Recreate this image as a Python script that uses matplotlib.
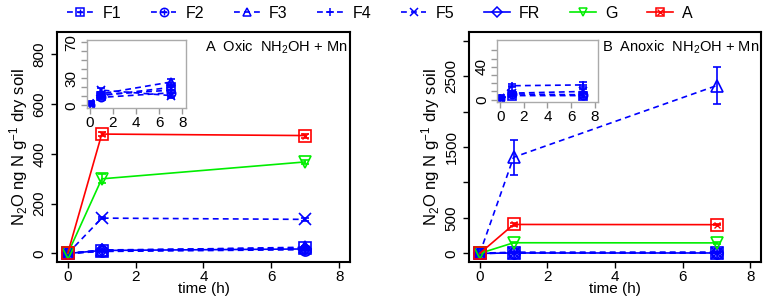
import numpy as np
import matplotlib
matplotlib.use("Agg")
import matplotlib.pyplot as plt
from matplotlib.lines import Line2D
from matplotlib.legend_handler import HandlerTuple

plt.rcParams['font.family'] = ['Liberation Sans', 'DejaVu Sans']
plt.rcParams['mathtext.fontset'] = 'custom'
plt.rcParams['mathtext.rm'] = 'Liberation Sans'
plt.rcParams['mathtext.it'] = 'Liberation Sans:italic'
plt.rcParams['font.size'] = 11

# sampling times (h)
time = [0, 1, 7]
series = ["F1", "F2", "F3", "F4", "F5", "FR", "G", "A"]

# A: oxic NH2OH + Mn
oxic = {
    "F1": [0, 10, 20], "F2": [0, 8, 15], "F3": [0, 12, 25], "F4": [0, 14, 22],
    "F5": [0, 142, 137], "FR": [0, 12, 18], "G": [0, 300, 368], "A": [2, 480, 474],
}
oxic_err = {
    "F1": [1, 2, 4], "F2": [1, 2, 3], "F3": [1, 3, 6], "F4": [1, 3, 5],
    "F5": [1, 5, 6], "FR": [1, 3, 8], "G": [1, 18, 8], "A": [1, 8, 8],
}
# inset of A (low range)
oxic_inset = {
    "F1": [1, 11, 20], "F2": [1, 9, 14], "F3": [1, 13, 26],
    "F4": [1, 12, 17], "F5": [2, 17, 11],
}

# B: anoxic NH2OH + Mn
anoxic = {
    "F1": [0, 5, 5], "F2": [0, 6, 6], "F3": [0, 1355, 2365], "F4": [2, 17, 18],
    "F5": [0, 8, 10], "FR": [0, 6, 6], "G": [0, 150, 148], "A": [0, 408, 405],
}
anoxic_err = {
    "F1": [1, 2, 2], "F2": [1, 2, 2], "F3": [5, 245, 260], "F4": [1, 4, 4],
    "F5": [1, 3, 4], "FR": [1, 2, 2], "G": [2, 10, 10], "A": [2, 15, 10],
}
anoxic_inset = {
    "F1": [1, 5, 5], "F2": [1, 7, 6], "F4": [2, 17, 18], "F5": [1, 8, 10],
}

blue, green, red = "#0000FF", "#00EE00", "#FF0000"
style = {
    "F1": (blue, "--", "s", "+"), "F2": (blue, "--", "o", "+"),
    "F3": (blue, "--", "^", None), "F4": (blue, "--", "+", None),
    "F5": (blue, "--", "x", None), "FR": (blue, "-", "D", None),
    "G": (green, "-", "v", None), "A": (red, "-", "s", "x"),
}
dash = (0, (3.5, 2.5))


def draw(ax, name, y, err=None, ms=8):
    c, ls, m, over = style[name]
    ls = dash if ls == "--" else "-"
    ax.errorbar(time, y, yerr=err, color=c, ls=ls, lw=1.2, marker=m, mfc="none",
                mec=c, ms=ms if m != "D" else ms * 0.8, mew=1.2, capsize=3,
                elinewidth=1.2, capthick=1.2)
    if over:
        ax.plot(time, y, ls="none", marker=over, color=c, ms=ms * 0.6, mew=1)


fig = plt.figure(figsize=(7.65, 3.0), dpi=100)
axA = fig.add_axes([0.0745, 0.127, 0.383, 0.766])
axB = fig.add_axes([0.613, 0.127, 0.382, 0.766])
insA = fig.add_axes([0.1137, 0.64, 0.129, 0.227])
insB = fig.add_axes([0.650, 0.66, 0.132, 0.207])

ylab = "N$_2$O ng N g$^{-1}$ dry soil"
for ax, data, err, lims, ticks, labs in [
    (axA, oxic, oxic_err, (-34, 890), [0, 200, 400, 600, 800], None),
    (axB, anoxic, anoxic_err, (-120, 3120), [0, 500, 1000, 1500, 2000, 2500, 3000],
     ["0", "500", "", "1500", "", "2500", ""]),
]:
    for s in series:
        draw(ax, s, data[s], err[s])
    ax.set_xlim(-0.32, 8.32)
    ax.set_ylim(*lims)
    ax.set_xticks([0, 2, 4, 6, 8])
    ax.set_yticks(ticks)
    if labs:
        ax.set_yticklabels(labs)
    for lab in ax.get_yticklabels():
        lab.set_rotation(90)
        lab.set_va("center")
    ax.tick_params(length=4, width=1, direction="out", labelsize=11)
    ax.tick_params(axis="x", pad=1.5)
    for sp in ax.spines.values():
        sp.set_linewidth(1.5)
    ax.set_xlabel("time (h)", fontsize=11, labelpad=-1)
    ax.set_ylabel(ylab, fontsize=12, labelpad=2)

fig.text(205 / 765, 1 - 47 / 300, "A  Oxic  NH$_2$OH + Mn", ha="left", va="center",
         fontsize=10.5)
fig.text(602 / 765, 1 - 47 / 300, "B  Anoxic  NH$_2$OH + Mn", ha="left", va="center",
         fontsize=10.5)

for ax, data, yt, ylabs in [
    (insA, oxic_inset, range(0, 71, 10), ["0", "", "", "30", "", "", "", "70"]),
    (insB, anoxic_inset, range(0, 61, 10), ["0", "", "", "", "40", "", ""]),
]:
    for s in data:
        draw(ax, s, data[s], [1, 2, 3], ms=6)
    ax.set_xlim(-0.25, 8.3)
    ax.set_ylim(-2.8, 72.8)
    ax.set_xticks([0, 2, 4, 6, 8])
    ax.set_yticks(list(yt))
    ax.set_yticklabels(ylabs)
    for lab in ax.get_yticklabels():
        lab.set_rotation(90)
        lab.set_va("center")
    ax.tick_params(length=4, width=1, color="#999999", labelsize=11, pad=2)
    for sp in ax.spines.values():
        sp.set_color("#AAAAAA")
        sp.set_linewidth(1)
    ax.set_facecolor("white")

handles = []
for s in series:
    c, ls, m, over = style[s]
    ls = dash if ls == "--" else "-"
    h = Line2D([], [], color=c, ls=ls, lw=1.2, marker=m, mfc="none", mec=c,
               ms=6 if m != "D" else 5.5, mew=1.1)
    if over:
        h2 = Line2D([], [], ls="none", marker=over, color=c, ms=4, mew=1)
        h = (h, h2)
    handles.append(h)
fig.legend(handles, series, loc="center", bbox_to_anchor=(0.497, 0.955), ncol=8,
           frameon=False, handlelength=1.6, handletextpad=0.6, columnspacing=1.85,
           fontsize=11.5, handler_map={tuple: HandlerTuple(ndivide=1)})

fig.savefig("out.png", dpi=100)
